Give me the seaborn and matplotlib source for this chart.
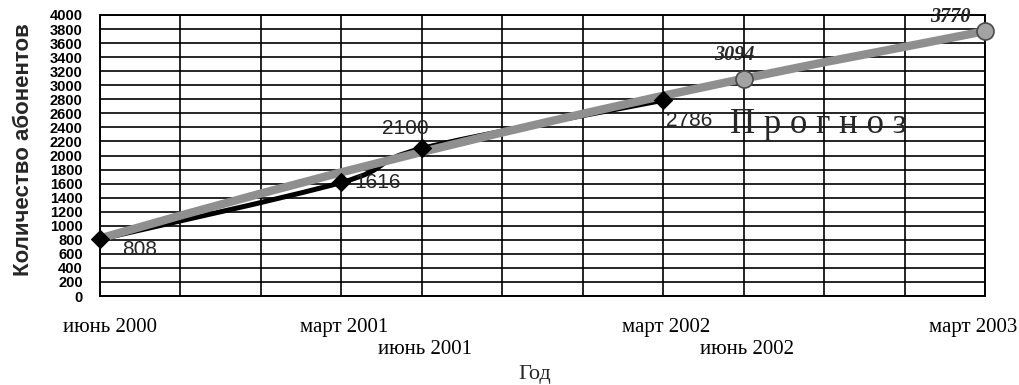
import numpy as np
import pandas as pd
import seaborn as sns
import matplotlib
matplotlib.use("Agg")
import matplotlib.pyplot as plt
import matplotlib.transforms as mtransforms
from matplotlib.path import Path
from matplotlib.patches import PathPatch
from matplotlib.ticker import MultipleLocator

# ---- data (months counted from June 2000) ----
actual_months = [0, 9, 12, 21]
actual_values = [808, 1616, 2100, 2786]

forecast_months = [24, 33]
forecast_values = [3094, 3770]

trend_months = [0, 3, 6, 9, 12, 15, 18, 21, 24, 27, 30, 33]
trend_values = [820, 1145, 1459, 1761, 2050, 2328, 2594, 2851, 3094, 3327, 3547, 3770]

tick_months = [0, 9, 12, 21, 24, 33]
tick_labels = ["июнь 2000", "март 2001", "июнь 2001", "март 2002", "июнь 2002", "март 2003"]
tick_lower_row = [False, False, True, False, True, False]

y_label = "Количество абонентов"
x_label = "Год"
forecast_text = "П р о г н о з"

sns.set_style("white")
plt.rcParams["font.family"] = ["Liberation Sans", "DejaVu Sans"]

fig = plt.figure(figsize=(10.19, 3.85), dpi=100)
ax = fig.add_axes([100 / 1019, 1 - 296 / 385, 885 / 1019, 281 / 385])

trend_df = pd.DataFrame({"m": trend_months, "v": trend_values})
act_df = pd.DataFrame({"m": actual_months, "v": actual_values})
fc_df = pd.DataFrame({"m": forecast_months, "v": forecast_values})

# smoothed actual line (Bezier through the data points)
pts = np.column_stack([actual_months, actual_values]).astype(float)
verts = [tuple(pts[0])]
codes = [Path.MOVETO]
n = len(pts)
for i in range(n - 1):
    p_prev = pts[i - 1] if i > 0 else pts[i]
    p0, p1 = pts[i], pts[i + 1]
    p_next = pts[i + 2] if i + 2 < n else pts[i + 1]
    c1 = p0 + (p1 - p_prev) / 6.0
    c2 = p1 - (p_next - p0) / 6.0
    verts += [tuple(c1), tuple(c2), tuple(p1)]
    codes += [Path.CURVE4] * 3
ax.add_patch(PathPatch(Path(verts, codes), facecolor="none", edgecolor="black",
                       lw=3.6, zorder=3, capstyle="round", joinstyle="round"))

# trend / forecast line
sns.lineplot(data=trend_df, x="m", y="v", ax=ax, color="#8f8f8f", lw=6.0,
             zorder=4, solid_capstyle="butt")

sns.scatterplot(data=act_df, x="m", y="v", ax=ax, marker="D", s=85, color="black",
                edgecolor="black", zorder=6, clip_on=False)
sns.scatterplot(data=fc_df, x="m", y="v", ax=ax, marker="o", s=150, color="#a3a3a3",
                edgecolor="#4a4a4a", linewidth=1.2, zorder=7, clip_on=False)

ax.set_xlim(0, 33)
ax.set_ylim(0, 4000)

# ticks
quarters = list(range(0, 34, 3))
labels = []
for q in quarters:
    labels.append(tick_labels[tick_months.index(q)] if q in tick_months else "")
ax.set_xticks(quarters)
ax.set_xticklabels(labels, fontsize=15, family=["Liberation Serif", "DejaVu Serif"])
ax.yaxis.set_major_locator(MultipleLocator(200))
ax.yaxis.set_minor_locator(MultipleLocator(50))
ax.tick_params(axis="y", which="major", direction="inout", length=9, width=1.2,
               labelsize=10.5, pad=8, colors="black")
ax.tick_params(axis="y", which="minor", direction="in", length=3, width=1.0)
ax.tick_params(axis="x", which="major", direction="inout", length=9, width=1.2,
               pad=11, colors="black")
for lab in ax.get_yticklabels():
    lab.set_fontweight("bold")

for q, lab in zip(quarters, ax.get_xticklabels()):
    dx, dy = 3, 0
    if q == 0:
        dx = 10
    elif q == 33:
        dx = -12
    if q in tick_months and tick_lower_row[tick_months.index(q)]:
        dy = -22
    off = mtransforms.ScaledTranslation(dx / 100, dy / 100, fig.dpi_scale_trans)
    lab.set_transform(lab.get_transform() + off)

ax.grid(True, which="major", color="black", lw=1.2)
ax.set_axisbelow(True)
for s in ax.spines.values():
    s.set_color("black")
    s.set_linewidth(1.4)

ax.set_ylabel(y_label, fontsize=16, fontweight="bold")
ax.yaxis.set_label_coords(-0.075, 0.52)
ax.set_xlabel(x_label, fontsize=16, family=["Liberation Serif", "DejaVu Serif"])
ax.xaxis.set_label_coords(0.4915, -0.245)

# data labels
px = 72 / 100
label_offsets = [(40, -10), (36, 0), (-17, 20), (26, -20)]
for m, v, (dx, dy) in zip(actual_months, actual_values, label_offsets):
    ax.annotate(str(v), (m, v), xytext=(dx * px, dy * px), textcoords="offset points",
                ha="center", va="center", fontsize=15, zorder=8)
fc_offsets = [(-9, 24), (-35, 14)]
for m, v, (dx, dy) in zip(forecast_months, forecast_values, fc_offsets):
    ax.annotate(str(v), (m, v), xytext=(dx * px, dy * px), textcoords="offset points",
                ha="center", va="center", fontsize=14.5, fontweight="bold", style="italic",
                family=["Liberation Serif", "DejaVu Serif"], zorder=8)

ax.text(26.8, 2440, forecast_text, ha="center", va="center", fontsize=25,
        family=["Liberation Serif", "DejaVu Serif"], zorder=8)

fig.savefig("out.png", dpi=100)
